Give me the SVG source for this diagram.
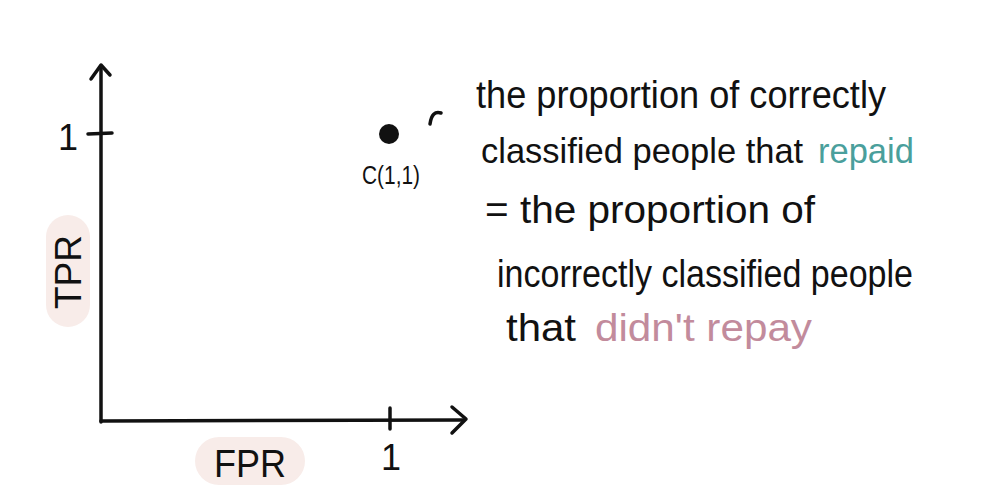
<svg xmlns="http://www.w3.org/2000/svg" width="998" height="500" viewBox="0 0 998 500">
<style>
.ax{stroke:#111;stroke-width:3.5;fill:none;stroke-linecap:round;stroke-linejoin:round}
.t{font-family:"Liberation Sans","DejaVu Sans",sans-serif;fill:#111}
.teal{fill:#4a9f9c}
.pink{fill:#c28b9c}
.pill{fill:#f8ece9}
</style>
<rect width="998" height="500" fill="#fff"/>
<g id="axes" class="ax">
<path d="M101,422 L101,68"/>
<path d="M91,79 L101,65 L110,75"/>
<path d="M88,134 L112,133"/>
<path d="M101,421 L463,420"/>
<path d="M452,407 L466,419 L452,433"/>
<path d="M390,408 L390,429"/>
</g>
<g id="y-label">
<rect class="pill" x="46" y="215" width="44" height="112" rx="22"/>
<text class="t" font-size="37" text-anchor="middle" transform="translate(81,272) rotate(-90)" textLength="74" lengthAdjust="spacingAndGlyphs">TPR</text>
<text class="t" x="68" y="150" text-anchor="middle" font-size="36">1</text>
</g>
<g id="x-label">
<rect class="pill" x="195" y="437" width="110" height="48" rx="24"/>
<text class="t" x="250" y="477" text-anchor="middle" font-size="38" textLength="72" lengthAdjust="spacingAndGlyphs">FPR</text>
<text class="t" x="391" y="470" text-anchor="middle" font-size="36">1</text>
</g>
<g id="point">
<circle cx="389" cy="134" r="10" fill="#111"/>
<text class="t" x="391" y="184" text-anchor="middle" font-size="26" textLength="58" lengthAdjust="spacingAndGlyphs">C(1,1)</text>
<path class="ax" d="M430,124 Q432,110 441,113"/>
</g>
<g id="note" font-size="38">
<text class="t" x="476" y="108" textLength="410" lengthAdjust="spacingAndGlyphs">the proportion of correctly</text>
<text class="t" x="481" y="163" font-size="34.5">classified people that</text>
<text class="t teal" x="818" y="163" font-size="34.5">repaid</text>
<text class="t" x="485" y="223" textLength="330" lengthAdjust="spacingAndGlyphs">= the proportion of</text>
<text class="t" x="497" y="287" textLength="416" lengthAdjust="spacingAndGlyphs">incorrectly classified people</text>
<text class="t" x="506" y="341" textLength="70" lengthAdjust="spacingAndGlyphs">that</text>
<text class="t pink" x="595" y="341" textLength="217" lengthAdjust="spacingAndGlyphs">didn't repay</text>
</g>
</svg>
